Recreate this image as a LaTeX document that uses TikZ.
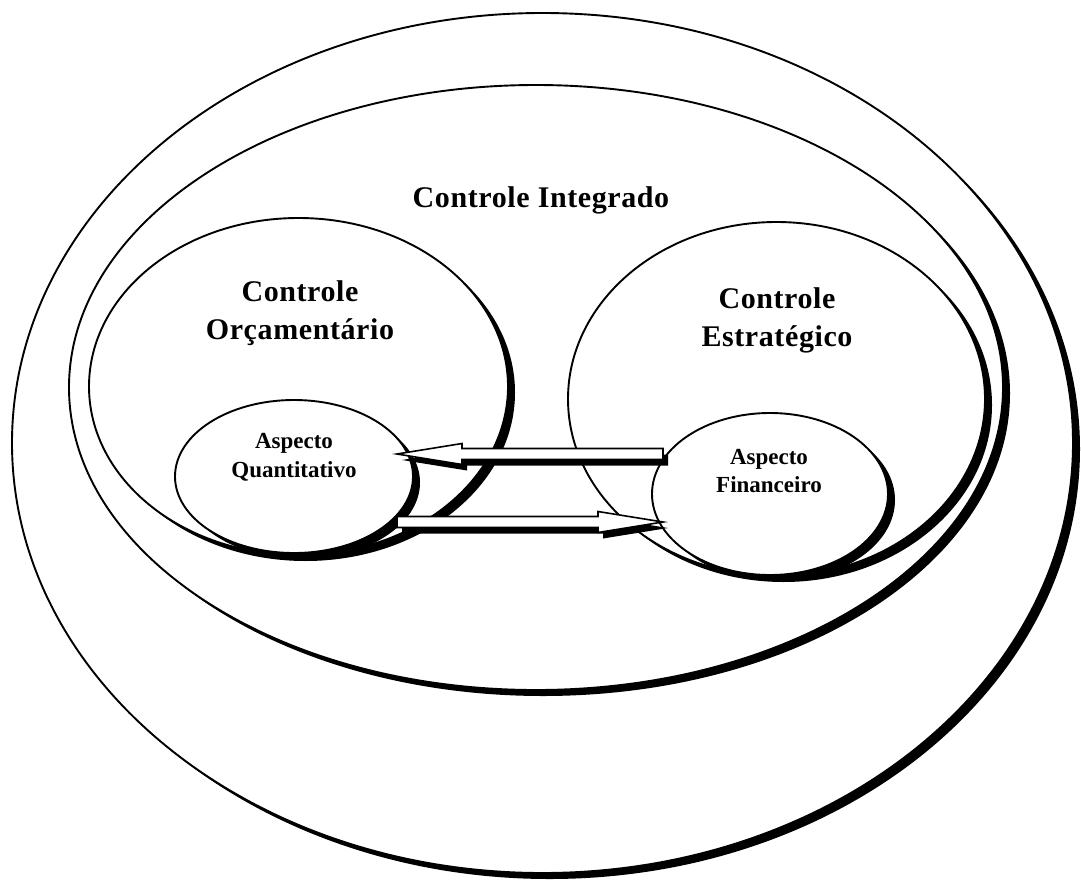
\documentclass[tikz,border=0pt]{standalone}
\usepackage{fontspec}
\setmainfont{Liberation Serif}
\newfontfamily\labelfont[LetterSpace=2]{Liberation Serif}
\usetikzlibrary{shapes.geometric,shadows,calc}

\tikzset{
  ring/.style={ellipse, draw=black, line width=1.9pt, fill=white,
    inner sep=0pt, outer sep=0pt,
    drop shadow={shadow xshift=7pt, shadow yshift=-6pt, opacity=1, fill=black}},
  biglabel/.style={anchor=base, inner sep=0pt,
    font=\labelfont\bfseries\fontsize{30}{36}\selectfont},
  smalllabel/.style={anchor=base, inner sep=0pt,
    font=\bfseries\fontsize{23}{28}\selectfont},
  arrowbody/.style={draw=black, line width=1.6pt, fill=white, line join=miter,
    drop shadow={shadow xshift=5pt, shadow yshift=-6pt, opacity=1, fill=black}},
}

% hollow block arrow, horizontal, from tail #1 to the x of tip #2
\newcommand\blockarrow[2]{%
  let \p1=(#1), \p2=(#2), \n1={sign(\x2-\x1)} in
  ({\x1},{\y1+5.5pt}) -- ({\x2-(\n1)*65pt},{\y1+5.5pt})
  -- ({\x2-(\n1)*65pt},{\y1+10.5pt}) -- ({\x2},{\y1})
  -- ({\x2-(\n1)*65pt},{\y1-10.5pt}) -- ({\x2-(\n1)*65pt},{\y1-5.5pt})
  -- ({\x1},{\y1-5.5pt}) -- cycle
}

\begin{document}
\begin{tikzpicture}[x=1pt, y=-1pt]
  \fill[white] (0,0) rectangle (1081,883);
  \useasboundingbox (0,0) rectangle (1081,883);

  % nested control areas
  \node[ring, minimum width=1061pt, minimum height=860pt] (outer) at (542.5,443) {};
  \node[ring, minimum width=934pt, minimum height=605pt] (integ) at (536,387.5) {};
  \node[ring, minimum width=419pt, minimum height=337pt] (orc) at (298.5,386.5) {};
  \node[ring, minimum width=417pt, minimum height=354pt] (estr) at (776.5,399) {};
  \node[ring, minimum width=238pt, minimum height=153pt] (quant) at (294,476.5) {};
  \node[ring, minimum width=236pt, minimum height=162pt] (fin) at (770,494) {};

  % exchanges between the two aspects
  \draw[arrowbody] \blockarrow{$(fin.center)+(-107,-40)$}{$(quant.center)+(103,-22.5)$};
  \draw[arrowbody] \blockarrow{$(quant.center)+(103,45.5)$}{$(fin.center)+(-107,28)$};

  % labels
  \node[biglabel] (tinteg) at (541,207) {Controle Integrado};
  \node[biglabel] (torc1) at (300,301) {Controle};
  \node[biglabel] (torc2) at (300,339) {Orçamentário};
  \node[biglabel] (testr1) at (777,308) {Controle};
  \node[biglabel] (testr2) at (777,346) {Estratégico};
  \node[smalllabel] (tquant1) at (294,448) {Aspecto};
  \node[smalllabel] (tquant2) at (294,477) {Quantitativo};
  \node[smalllabel] (tfin1) at (769,464) {Aspecto};
  \node[smalllabel] (tfin2) at (769,492) {Financeiro};
\end{tikzpicture}
\end{document}
